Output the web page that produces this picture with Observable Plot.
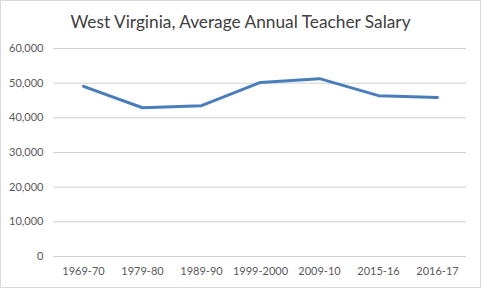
<!DOCTYPE html>
<html>
<head>
<meta charset="utf-8">
<script src="https://cdn.jsdelivr.net/npm/d3@7"></script>
<script src="https://cdn.jsdelivr.net/npm/@observablehq/plot@0.6"></script>
<style>
  html, body { margin: 0; padding: 0; background: #fff; }
  #chart { width: 481px; height: 288px; box-sizing: border-box; border: 1px solid #d9d9d9; background: #fff; font-family: Lato, "Open Sans", sans-serif; }
  #title { height: 36px; box-sizing: border-box; padding-top: 11px; text-align: center; font-size: 17.3px; color: #404040; line-height: 20px; }
  svg { display: block; }
</style>
</head>
<body>
<div id="chart"><div id="title">West Virginia, Average Annual Teacher Salary</div></div>
<script>
const years = ["1969-70", "1979-80", "1989-90", "1999-2000", "2009-10", "2015-16", "2016-17"];
const salaries = [49100, 42900, 43500, 50200, 51300, 46400, 45900];
const yTicks = [0, 10000, 20000, 30000, 40000, 50000, 60000];

const data = years.map((y, i) => ({year: y, salary: salaries[i]}));

const plot = Plot.plot({
  width: 479,
  height: 250,
  marginTop: 11,
  marginBottom: 31,
  marginLeft: 52,
  marginRight: 14,
  style: {fontFamily: "Lato, 'Open Sans', sans-serif", fontSize: "11px", color: "#595959", background: "#fff"},
  x: {type: "point", domain: years, padding: 0.5, label: null},
  y: {domain: [0, 60000], ticks: yTicks, label: null, tickFormat: d3.format(",")},
  marks: [
    Plot.gridY(yTicks, {stroke: "#d0d0d0", strokeOpacity: 1}),
    Plot.axisY({ticks: yTicks, tickSize: 0, tickPadding: 10, tickFormat: d3.format(","), fill: "#595959", label: null}),
    Plot.axisX({tickSize: 0, tickPadding: 11, fill: "#595959", label: null}),
    Plot.line(data, {x: "year", y: "salary", stroke: "#4a7ebb", strokeWidth: 3, strokeLinejoin: "round", strokeLinecap: "round"})
  ]
});
document.getElementById("chart").appendChild(plot);
</script>
</body>
</html>
